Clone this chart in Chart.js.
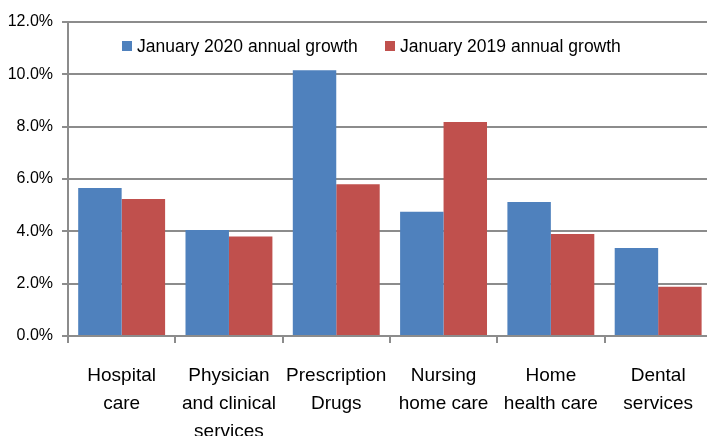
<!DOCTYPE html>
<html>
<head>
<meta charset="utf-8">
<script src="https://cdn.jsdelivr.net/npm/chart.js@4.4.1/dist/chart.umd.min.js"></script>
<style>
  html, body { margin: 0; padding: 0; background: #fff; overflow: hidden; }
  #wrap { width: 707px; height: 436px; position: relative; overflow: hidden; }
</style>
</head>
<body>
<!-- plot area runs a few pixels past the right edge, as in the original -->
<div id="wrap"><canvas id="chart" width="712" height="436"></canvas></div>
<script>
// Chart data
const categories = [
    ['Hospital', 'care'],
    ['Physician', 'and clinical', 'services'],
    ['Prescription', 'Drugs'],
    ['Nursing', 'home care'],
    ['Home', 'health care'],
    ['Dental', 'services']
];
const seriesNames = ['January 2020 annual growth', 'January 2019 annual growth'];
const growth2020 = [5.66, 4.05, 10.16, 4.75, 5.12, 3.36];
const growth2019 = [5.24, 3.80, 5.80, 8.18, 3.90, 1.88];
const yTicks = { min: 0, max: 12, step: 2 };

const FONT = "'Liberation Sans', Arial, sans-serif";
const GRID = '#8c8c8c';

// Legend drawn inside the plot area, like the original
const insideLegend = {
    id: 'insideLegend',
    afterDraw(chart) {
        const ctx = chart.ctx;
        const area = chart.chartArea;
        const y = area.top + 24;
        const starts = [area.left + 54, area.left + 317];
        ctx.save();
        ctx.font = '17.5px ' + FONT;
        ctx.textBaseline = 'middle';
        chart.data.datasets.forEach((ds, i) => {
            const x = starts[i];
            ctx.fillStyle = ds.backgroundColor;
            ctx.fillRect(x, y - 5, 10, 10);
            ctx.fillStyle = '#000';
            ctx.fillText(ds.label, x + 15, y + 1);
        });
        ctx.restore();
    }
};

new Chart(document.getElementById('chart'), {
    type: 'bar',
    data: {
        labels: categories,
        datasets: [
            {
                label: seriesNames[0],
                data: growth2020,
                backgroundColor: '#4F81BD',
                borderWidth: 0,
                categoryPercentage: 0.81,
                barPercentage: 1.0
            },
            {
                label: seriesNames[1],
                data: growth2019,
                backgroundColor: '#C0504D',
                borderWidth: 0,
                categoryPercentage: 0.81,
                barPercentage: 1.0
            }
        ]
    },
    options: {
        responsive: false,
        animation: false,
        layout: { padding: { top: 22, right: 0, left: 0, bottom: 0 } },
        plugins: {
            legend: { display: false },
            tooltip: { enabled: false }
        },
        scales: {
            x: {
                offset: true,
                grid: {
                    offset: true,
                    drawOnChartArea: false,
                    color: GRID,
                    lineWidth: 2,
                    tickLength: 7
                },
                border: { color: GRID, width: 2 },
                ticks: {
                    color: '#000',
                    padding: 19,
                    maxRotation: 0,
                    autoSkip: false,
                    font: { family: FONT, size: 19, lineHeight: 1.46 }
                },
                afterFit(scale) { scale.height = 100; }
            },
            y: {
                min: yTicks.min,
                max: yTicks.max,
                ticks: {
                    stepSize: yTicks.step,
                    color: '#000',
                    padding: 9,
                    font: { family: FONT, size: 16 },
                    callback: v => v.toFixed(1) + '%'
                },
                grid: {
                    color: GRID,
                    lineWidth: 2,
                    tickLength: 6
                },
                border: { color: GRID, width: 2 },
                afterFit(scale) { scale.width = 68; }
            }
        }
    },
    plugins: [insideLegend]
});
</script>
</body>
</html>
